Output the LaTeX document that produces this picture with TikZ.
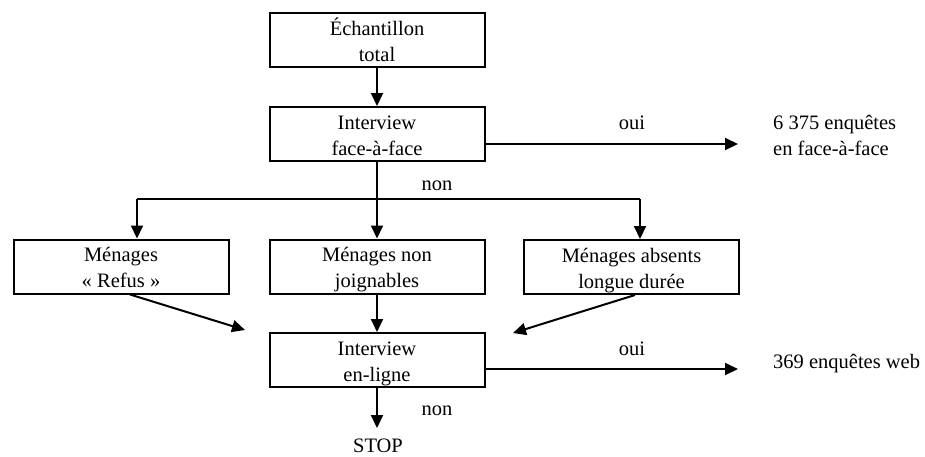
\documentclass[tikz,border=0pt]{standalone}
\usepackage{fontspec}
\setmainfont{Liberation Serif}
\usetikzlibrary{arrows.meta}
\newcommand{\twolines}[2]{\rule{0pt}{22pt}#1\\#2\rule[-6pt]{0pt}{6pt}}
\tikzset{
  box/.style={draw, line width=2pt, minimum width=215pt, minimum height=54pt, inner sep=0pt, align=center},
  lbl/.style={inner sep=0pt, anchor=base},
  conn/.style={line width=2pt},
  arr/.style={conn, -{Triangle[length=13pt,width=12pt]}}
}
\begin{document}
\begin{tikzpicture}[x=1pt, y=-1pt, font=\fontsize{20.5}{26}\selectfont]
\useasboundingbox (0,0) rectangle (925,456);
% boxes
\node[box] (b1) at (377,40) {\twolines{Échantillon}{total}};
\node[box] (b2) at (377,134) {\twolines{Interview}{face-à-face}};
\node[box] (b3) at (121,266.5) {\twolines{Ménages}{« Refus »}};
\node[box] (b4) at (377,266.5) {\twolines{Ménages non}{joignables}};
\node[box] (b5) at (631.5,267) {\twolines{Ménages absents}{longue durée}};
\node[box] (b6) at (377,360) {\twolines{Interview}{en-ligne}};
% texts
\node[inner sep=0pt, anchor=west, align=left] (t1) at (773,134) {\twolines{6 375 enquêtes}{en face-à-face}};
\node[lbl, anchor=base west] (t2) at (773,368) {369 enquêtes web};
\node[lbl] (stop) at (378,452) {STOP};
\node[lbl] (oui1) at (632,129) {oui};
\node[lbl] (oui2) at (632,355) {oui};
\node[lbl] (non1) at (437,190) {non};
\node[lbl] (non2) at (437,415) {non};
% coordinates
\coordinate (e1) at (738,144);
\coordinate (e2) at (738,369);
\coordinate (j1) at (137,199);
\coordinate (j2) at (640,199);
\coordinate (m1) at (245,330);
\coordinate (m2) at (513,333);
\coordinate (s1) at (377,428);
% connectors
\draw[arr] (b1) -- (b2);
\draw[arr] (b2.east |- e1) -- (e1);
\draw[arr] (b2) -- (b4);
\draw[conn] (j1) -- (j2);
\draw[arr] (j1) -- (j1 |- b3.north);
\draw[arr] (j2) -- (j2 |- b5.north);
\draw[arr] (b4) -- (b6);
\draw[arr] ([xshift=9pt]b3.south) -- (m1);
\draw[arr] ([xshift=3.5pt]b5.south) -- (m2);
\draw[arr] (b6.east |- e2) -- (e2);
\draw[arr] (b6) -- (s1);
\end{tikzpicture}
\end{document}
